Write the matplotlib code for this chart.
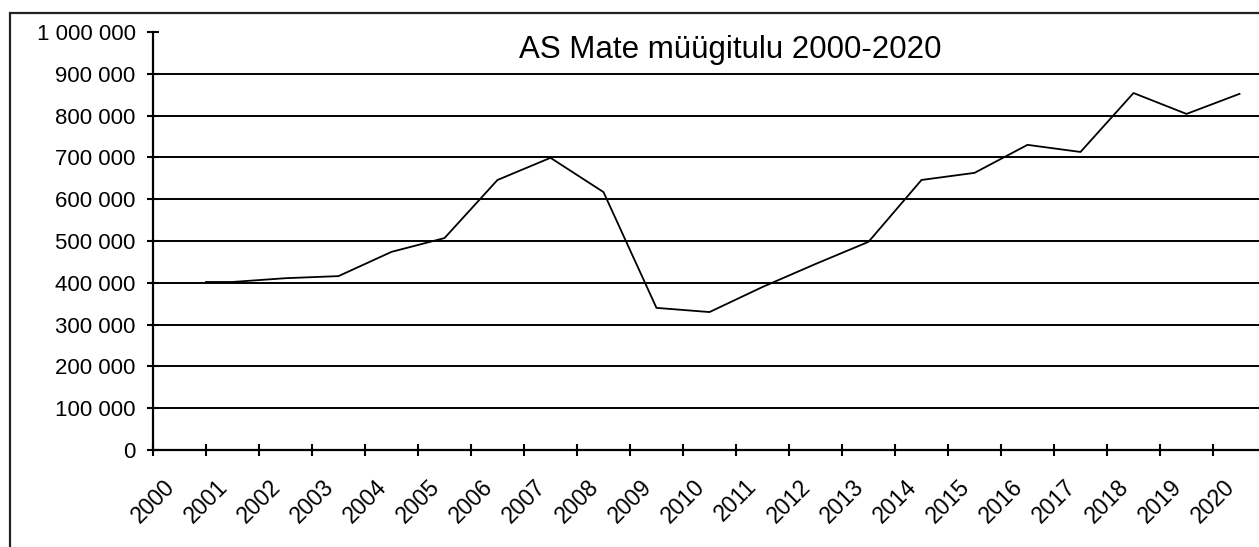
import matplotlib
matplotlib.use("Agg")
from matplotlib import pyplot as plt
from matplotlib.patches import Rectangle
from matplotlib.ticker import FuncFormatter

plt.rcParams['font.family'] = ['Liberation Sans', 'DejaVu Sans']

# aastad x-teljel
years = list(range(2000, 2021))
# müügitulu, punktid asuvad kategooriate vahel (esimene punkt 2001 juures)
sales_pos = [1.0] + [i + 0.5 for i in range(1, 21)]
sales = [402000, 402000, 411000, 416000, 474000, 507000, 646000, 699000,
         617000, 340000, 330000, 390000, 445000, 498000, 646000, 663000,
         730000, 713000, 854000, 804000, 852000]
y_ticks = [0, 100000, 200000, 300000, 400000, 500000, 600000, 700000,
           800000, 900000, 1000000]

W, H = 1259, 547
fig = plt.figure(figsize=(W / 100, H / 100), dpi=100)
fig.patch.set_facecolor('white')

# graafiku raam
fig.add_artist(Rectangle((10 / W, -0.1), 2, 1.1 - 13 / H, fill=False,
                         edgecolor='#222222', linewidth=1.6,
                         transform=fig.transFigure))

ax = fig.add_axes([153 / W, (H - 450) / H, 1113 / W, 418 / H])
ax.plot(sales_pos, sales, color='black', linewidth=1.3)

ax.set_xlim(0, 21)
ax.set_ylim(0, 1000000)
ax.set_yticks(y_ticks)
ax.yaxis.set_major_formatter(FuncFormatter(lambda v, p: f"{v:,.0f}".replace(",", " ")))
ax.set_xticks(range(len(years)))
ax.set_xticklabels([str(y) for y in years], rotation=45, ha='center', va='top')

for v in y_ticks[1:-1]:
    ax.axhline(v, color='black', linewidth=1.4, zorder=1)

for s in ['top', 'right']:
    ax.spines[s].set_visible(False)
for s in ['left', 'bottom']:
    ax.spines[s].set_linewidth(1.6)

ax.tick_params(axis='y', direction='inout', length=9, width=1.5, pad=8,
               labelsize=16)
ax.tick_params(axis='x', direction='inout', length=8, width=1.5, pad=14,
               labelsize=16.5)

fig.text(730 / W, (H - 50) / H, "AS Mate müügitulu 2000-2020", ha='center',
         va='center', fontsize=22.5)

fig.savefig("out.png", dpi=100)
